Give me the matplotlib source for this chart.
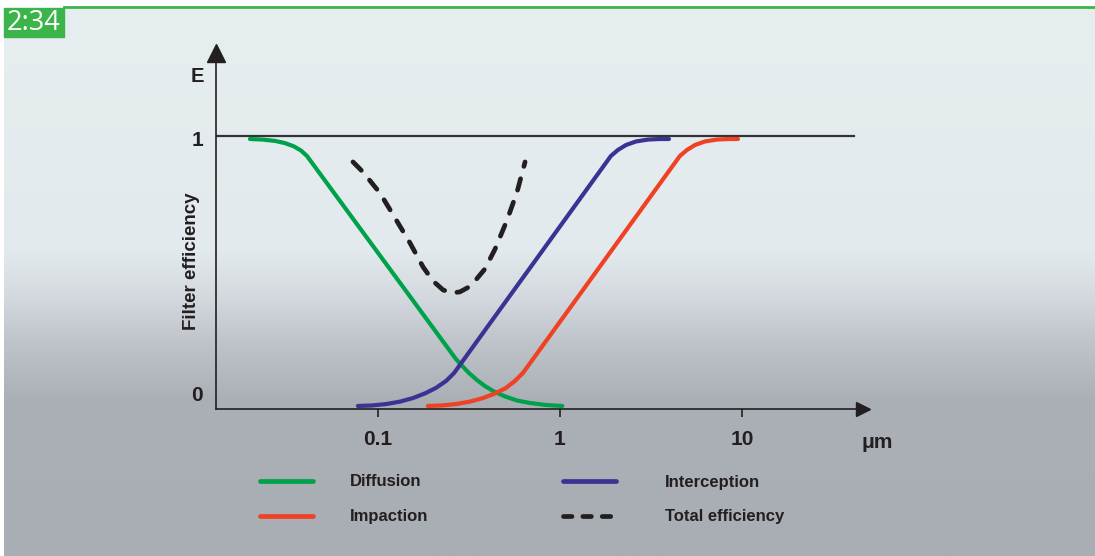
import numpy as np
import matplotlib
matplotlib.use('Agg')
import matplotlib.pyplot as plt
from matplotlib.colors import LinearSegmentedColormap
from matplotlib.lines import Line2D
from matplotlib.patches import Rectangle

plt.rcParams['font.family'] = ['Liberation Sans', 'DejaVu Sans']

# particle size (um) vs filter efficiency
diff_x = [0.0198, 0.0231, 0.0272, 0.0308, 0.0345, 0.0377, 0.0407,
          0.268, 0.290, 0.316, 0.350, 0.387, 0.434, 0.499, 0.581, 0.684, 0.828, 1.03]
diff_e = [0.989, 0.987, 0.982, 0.974, 0.962, 0.947, 0.927,
          0.183, 0.158, 0.132, 0.106, 0.084, 0.064, 0.046, 0.031, 0.022, 0.015, 0.011]

inter_x = [0.0776, 0.0927, 0.1107, 0.132, 0.1556, 0.181, 0.208, 0.237, 0.262,
           1.905, 2.083, 2.306, 2.616, 3.047, 3.543, 3.97]
inter_e = [0.011, 0.013, 0.018, 0.027, 0.040, 0.057, 0.077, 0.103, 0.132,
           0.927, 0.949, 0.967, 0.980, 0.987, 0.989, 0.989]

imp_x = [0.188, 0.225, 0.268, 0.320, 0.377, 0.440, 0.505, 0.566, 0.626,
         4.56, 4.99, 5.52, 6.26, 7.29, 8.48, 9.51]
imp_e = [0.011, 0.013, 0.018, 0.027, 0.040, 0.057, 0.077, 0.103, 0.132,
         0.927, 0.949, 0.967, 0.980, 0.987, 0.989, 0.989]

tot_x = [0.0729, 0.0827, 0.1026, 0.124, 0.150, 0.177, 0.2005, 0.228, 0.255,
         0.282, 0.312, 0.345, 0.387, 0.440, 0.512, 0.581, 0.643]
tot_e = [0.905, 0.868, 0.791, 0.700, 0.608, 0.520, 0.469, 0.436, 0.425,
         0.429, 0.445, 0.473, 0.513, 0.586, 0.692, 0.795, 0.905]

xtick_vals = [0.1, 1, 10]
xtick_labels = ['0.1', '1', '10']
names = ['Diffusion', 'Interception', 'Impaction', 'Total efficiency']

GREEN = '#00A14B'
BLUE = '#3A3393'
RED = '#EF4123'
INK = '#231F20'

W, H = 1095, 556
fig = plt.figure(figsize=(W / 100, H / 100), dpi=100)

def fx(px):
    return px / W

def fy(py):
    return 1 - py / H

#------------------------------
# background panel with gradient
#------------------------------
stops = [(8, '#E7EEF0'), (250, '#E3EAED'), (300, '#D2D8DD'), (345, '#BEC3CA'),
         (400, '#ABAFB6'), (556, '#A9ADB4')]
cmap = LinearSegmentedColormap.from_list(
    'bg', [((p - 8) / 548, c) for p, c in stops])
ax_bg = fig.add_axes([fx(4), 0, 1 - fx(4), fy(8)])
ax_bg.imshow(np.linspace(0, 1, 512).reshape(-1, 1), cmap=cmap, aspect='auto')
ax_bg.axis('off')

fig.add_artist(Line2D([fx(64), 1], [fy(7), fy(7)], color='#3BB54A', lw=2))
fig.add_artist(Rectangle((fx(4), fy(37)), fx(60), 29 / H, color='#3BB54A',
                         transform=fig.transFigure))
fig.text(fx(34), fy(23), '2:34', color='white', fontsize=19.5,
         family=['Open Sans', 'DejaVu Sans'], ha='center', va='center')

#------------------------------
# main axes
#------------------------------
ax = fig.add_axes([fx(216), fy(409), fx(863 - 216), (409 - 53) / H])
ax.patch.set_alpha(0)
ax.set_xscale('log')
ax.set_xlim(10 ** -1.890, 10 ** 1.665)
ax.set_ylim(0, 1.304)
for s in ['top', 'right']:
    ax.spines[s].set_visible(False)
for s in ['left', 'bottom']:
    ax.spines[s].set_color(INK)
    ax.spines[s].set_linewidth(1.2)
ax.plot(1, 0, '>', transform=ax.transAxes, ms=10.5, color=INK, clip_on=False)
ax.plot(0, 1, '^', transform=ax.transAxes, ms=13.5, color=INK, clip_on=False)

ax.set_xticks(xtick_vals)
ax.set_xticklabels(xtick_labels)
ax.minorticks_off()
ax.set_yticks([])
ax.tick_params(axis='x', direction='out', length=6, width=1.2, pad=9,
               labelsize=15, color=INK, labelcolor=INK)
for t in ax.get_xticklabels():
    t.set_fontweight('bold')

ax.axhline(1, xmin=0, xmax=0.986, color='#333333', lw=1.6, zorder=1)

line_kw = dict(lw=3.0, solid_capstyle='round', solid_joinstyle='round', zorder=3)
ax.plot(diff_x, diff_e, color=GREEN, **line_kw)
ax.plot(inter_x, inter_e, color=BLUE, **line_kw)
ax.plot(imp_x, imp_e, color=RED, **line_kw)
ax.plot(tot_x, tot_e, color=INK, lw=3.4, dashes=(2.5, 2.7),
        dash_capstyle='round', dash_joinstyle='round', zorder=4)

ytr = ax.get_yaxis_transform()
ax.text(-0.029, 0.982, '1', transform=ytr, ha='center', va='center',
        fontsize=15, fontweight='bold', color=INK)
ax.text(-0.029, 0.051, '0', transform=ytr, ha='center', va='center',
        fontsize=15, fontweight='bold', color=INK)

fig.text(fx(197), fy(76), 'E', ha='center', va='center', fontsize=14.5,
         fontweight='bold', color=INK)
fig.text(fx(877), fy(442), 'μm', ha='center', va='center', fontsize=15,
         fontweight='bold', color=INK)
fig.text(fx(191), fy(261), 'Filter efficiency', ha='center', va='center',
         rotation=90, fontsize=13.5, fontweight='bold', color=INK)

#------------------------------
# legend
#------------------------------
leg_style = [dict(color=GREEN), dict(color=BLUE), dict(color=RED),
             dict(color=INK, dashes=(1.8, 2.3), dash_capstyle='round')]
leg_pos = [(260, 350, 481), (563, 665, 481), (260, 350, 516), (563, 665, 516)]
for name, st, (lx, tx, py) in zip(names, leg_style, leg_pos):
    fig.add_artist(Line2D([fx(lx), fx(lx + 53)], [fy(py), fy(py)], lw=3.4,
                          solid_capstyle='round', **st))
    fig.text(fx(tx), fy(py + 1), name, ha='left', va='center', fontsize=12,
             fontweight='bold', color=INK)

fig.savefig('out.png', dpi=100)
